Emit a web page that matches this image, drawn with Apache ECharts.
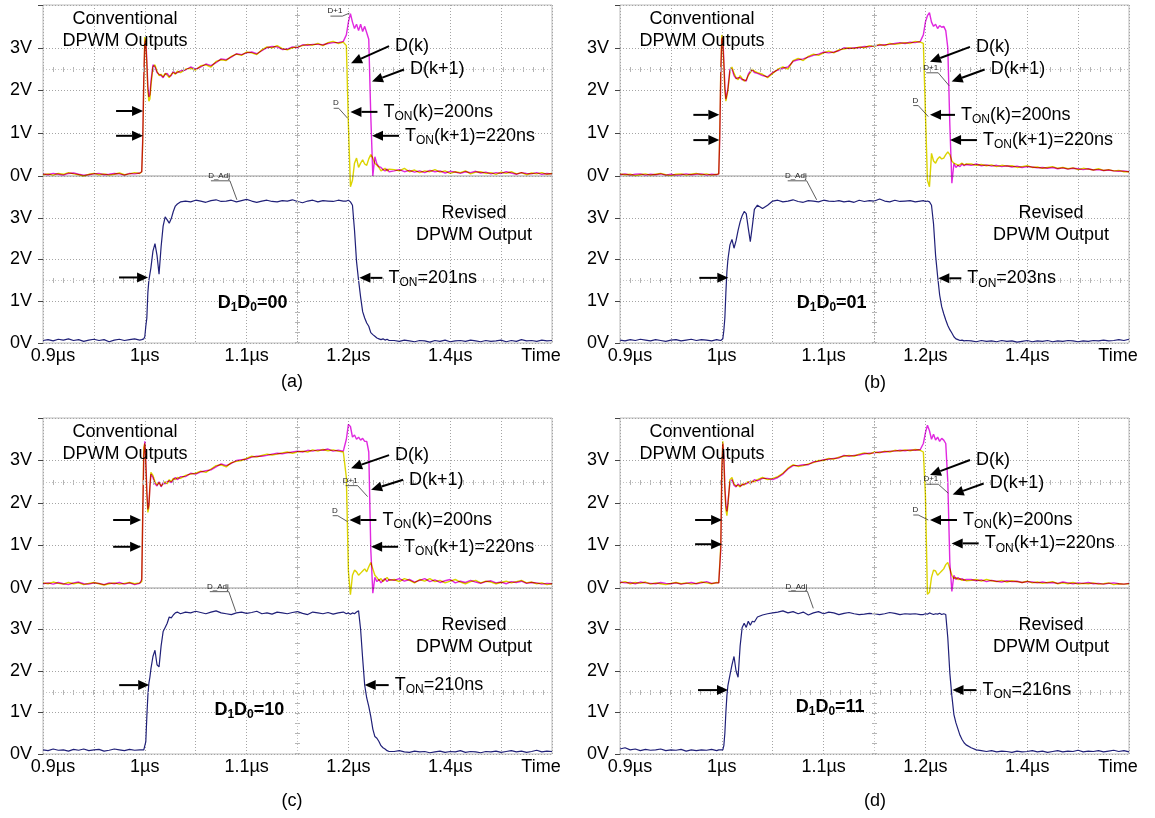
<!DOCTYPE html>
<html>
<head>
<meta charset="utf-8">
<title>DPWM outputs</title>
<script src="https://cdn.jsdelivr.net/npm/echarts@6/dist/echarts.min.js"></script>
<style>
html, body { margin: 0; padding: 0; background: #fff; }
#main { width: 1155px; height: 818px; }
</style>
</head>
<body>
<div id="main"></div>
<script>
// sample times (ns), shared by every trace
var timeNs = [
  900,905,910,915,920,925,930,935,940,945,950,955,960,965,970,975,980,985,990,995,
  997,998,999,1000,1001,1002,1003,1004,1005,1006,1008,1010,1012,1014,1016,1018,1020,1022,1024,1026,1028,1030,1032,1035,
  1040,1045,1050,1055,1060,1065,1070,1075,1080,1085,1090,1095,1100,1105,1110,1115,1120,1125,1130,1135,1140,1145,1150,1155,1160,1165,1170,1175,1180,1185,1190,1195,
  1196,1198,1200,1202,1204,1206,1208,1210,1212,1214,1216,1218,1220,1222,1224,1226,1228,1230,1232,1234,1236,1238,1240,
  1245,1250,1255,1260,1265,1270,1275,1280,1285,1290,1295,1300,1305,1310,1315,1320,1325,1330,1335,1340,1345,1350,1355,1360,1365,1370,1375,1380,1385,1390,1395,1400
];
var xTickLabels = ['0.9\u00b5s', '', '1\u00b5s', '', '1.1\u00b5s', '', '1.2\u00b5s', '', '1.4\u00b5s', '', 'Time'];
var yTickLabels = ['0V', '1V', '2V', '3V', ''];

// (a) D1D0=00
var dkA = [
  0.03,0.05,0.02,0.06,0.04,0.08,0.05,0.03,0.00,0.04,0.06,0.03,0.05,0.02,0.04,0.07,0.03,0.05,0.08,0.06,
  0.1,0.8,2.2,3.25,3.1,2.6,2.0,1.75,1.8,2.1,2.55,2.6,2.45,2.35,2.38,2.32,2.4,2.36,2.3,2.38,2.42,2.38,2.45,2.42,
  2.5,2.52,2.48,2.58,2.6,2.55,2.68,2.72,2.7,2.8,2.85,2.82,2.9,2.88,2.84,2.95,3.02,3.0,3.05,2.98,2.95,3.0,3.02,3.05,3.08,3.06,3.1,3.05,3.12,3.15,3.1,3.13,
  3.12,3.05,1.2,-0.25,-0.1,0.3,0.42,0.2,0.3,0.38,0.28,0.25,0.4,0.5,0.42,0.3,0.25,0.2,0.12,0.15,0.18,0.12,0.16,
  0.15,0.12,0.18,0.1,0.14,0.08,0.12,0.1,0.15,0.09,0.12,0.06,0.1,0.08,0.12,0.05,0.09,0.1,0.06,0.08,0.04,0.09,0.06,0.1,0.05,0.08,0.03,0.07,0.05,0.08,0.04,0.06
];
var dk1A = [
  0.05,0.03,0.06,0.04,0.02,0.06,0.07,0.04,0.02,0.03,0.05,0.06,0.03,0.04,0.06,0.05,0.02,0.06,0.05,0.07,
  0.1,0.9,2.3,3.1,3.2,2.7,2.1,1.85,1.9,2.2,2.6,2.55,2.42,2.38,2.35,2.3,2.38,2.4,2.33,2.35,2.45,2.4,2.42,2.46,
  2.48,2.55,2.5,2.55,2.62,2.58,2.65,2.74,2.72,2.78,2.86,2.84,2.88,2.9,2.86,2.93,3.0,3.03,3.02,2.96,2.97,3.02,3.0,3.07,3.06,3.08,3.08,3.07,3.1,3.12,3.12,3.15,
  3.15,3.3,3.6,3.8,3.6,3.45,3.55,3.4,3.55,3.38,3.5,3.35,3.2,1.4,0.0,0.45,0.28,0.22,0.2,0.15,0.12,0.16,0.1,
  0.12,0.15,0.1,0.13,0.09,0.12,0.08,0.13,0.1,0.12,0.07,0.11,0.09,0.06,0.1,0.08,0.11,0.07,0.09,0.05,0.08,0.06,0.1,0.07,0.04,0.08,0.06,0.05,0.08,0.04,0.06,0.05
];
var revA = [
  0.06,0.08,0.05,0.09,0.07,0.1,0.06,0.08,0.04,0.07,0.09,0.06,0.08,0.03,0.07,0.09,0.06,0.08,0.1,0.07,
  0.08,0.08,0.1,0.15,0.4,0.6,1.2,1.5,1.65,1.8,2.2,2.38,2.1,1.65,2.3,2.8,3.02,2.95,2.87,2.98,3.15,3.28,3.33,3.38,
  3.4,3.38,3.42,3.4,3.37,3.41,3.43,3.39,3.4,3.42,3.38,3.41,3.44,3.4,3.37,3.4,3.42,3.39,3.38,3.41,3.4,3.43,3.39,3.36,3.4,3.42,3.38,3.41,3.4,3.39,3.42,3.4,
  3.41,3.4,3.42,3.38,3.3,2.7,1.95,1.5,1.1,0.75,0.6,0.48,0.4,0.25,0.2,0.16,0.12,0.1,0.08,0.1,0.07,0.09,0.06,
  0.06,0.04,0.07,0.05,0.03,0.06,0.05,0.02,0.06,0.04,0.07,0.03,0.05,0.06,0.04,0.07,0.05,0.03,0.06,0.04,0.05,0.07,0.03,0.06,0.04,0.08,0.05,0.06,0.04,0.07,0.05,0.06
];

// (b) D1D0=01
var dkB = [
  0.05,0.03,0.04,0.01,0.03,0.05,0.02,0.04,0.06,0.03,0.01,0.04,0.05,0.02,0.04,0.06,0.03,0.05,0.02,0.04,
  0.05,1.0,2.5,3.3,3.1,2.6,2.0,1.75,1.73,2.0,2.45,2.55,2.4,2.3,2.25,2.35,2.28,2.22,2.25,2.35,2.42,2.5,2.45,2.42,
  2.38,2.3,2.4,2.5,2.55,2.5,2.7,2.75,2.7,2.8,2.85,2.82,2.88,2.92,2.88,2.95,2.97,3.0,2.98,3.02,3.0,3.05,3.03,3.08,3.05,3.1,3.08,3.1,3.12,3.1,3.15,3.13,
  3.12,3.1,1.5,-0.1,-0.25,0.53,0.35,0.3,0.4,0.45,0.4,0.42,0.5,0.56,0.5,0.35,0.3,0.28,0.25,0.27,0.3,0.26,0.28,
  0.28,0.25,0.27,0.24,0.26,0.22,0.25,0.23,0.24,0.2,0.22,0.24,0.2,0.21,0.18,0.2,0.22,0.18,0.2,0.17,0.19,0.15,0.18,0.16,0.14,0.17,0.13,0.15,0.12,0.13,0.1,0.1
];
var dk1B = [
  0.03,0.05,0.02,0.04,0.05,0.02,0.04,0.03,0.05,0.02,0.04,0.02,0.03,0.05,0.03,0.04,0.05,0.02,0.04,0.03,
  0.05,0.9,2.4,3.2,3.25,2.7,2.1,1.8,1.8,2.05,2.5,2.5,2.35,2.28,2.3,2.3,2.25,2.25,2.22,2.38,2.45,2.48,2.42,2.4,
  2.35,2.32,2.42,2.48,2.52,2.55,2.68,2.72,2.74,2.78,2.82,2.85,2.9,2.88,2.9,2.93,3.0,2.98,3.0,3.0,3.03,3.02,3.05,3.06,3.07,3.08,3.1,3.12,3.1,3.13,3.12,3.15,
  3.15,3.3,3.6,3.75,3.82,3.6,3.5,3.55,3.45,3.52,3.48,3.5,3.4,3.0,1.2,-0.17,0.29,0.2,0.25,0.22,0.28,0.24,0.27,
  0.25,0.28,0.24,0.26,0.23,0.25,0.22,0.24,0.21,0.23,0.2,0.22,0.21,0.19,0.2,0.18,0.2,0.17,0.19,0.16,0.18,0.17,0.15,0.17,0.14,0.15,0.13,0.14,0.12,0.11,0.12,0.1
];
var revB = [
  0.07,0.05,0.08,0.06,0.09,0.07,0.05,0.08,0.06,0.04,0.07,0.08,0.05,0.07,0.09,0.06,0.08,0.07,0.05,0.08,
  0.07,0.08,0.06,0.08,0.1,0.3,0.6,1.2,1.7,2.0,2.35,2.48,2.27,2.45,2.7,2.9,3.05,3.15,3.1,2.75,2.43,2.8,3.2,3.3,
  3.22,3.3,3.4,3.42,3.38,3.4,3.43,3.39,3.37,3.41,3.4,3.38,3.42,3.4,3.39,3.41,3.38,3.4,3.37,3.42,3.39,3.41,3.4,3.45,3.4,3.38,3.42,3.39,3.4,3.41,3.38,3.4,
  3.4,3.41,3.39,3.4,3.38,3.3,2.85,2.1,1.6,1.15,0.87,0.7,0.55,0.42,0.32,0.24,0.15,0.1,0.08,0.06,0.07,0.05,0.06,
  0.05,0.03,0.06,0.04,0.05,0.03,0.06,0.04,0.05,0.02,0.04,0.06,0.03,0.05,0.04,0.06,0.03,0.05,0.04,0.06,0.05,0.03,0.05,0.04,0.06,0.05,0.07,0.05,0.06,0.08,0.06,0.09
];

// (c) D1D0=10
var dkC = [
  0.12,0.1,0.14,0.11,0.09,0.13,0.1,0.12,0.08,0.11,0.13,0.1,0.07,0.1,0.12,0.09,0.11,0.13,0.1,0.12,
  0.15,1.8,3.3,3.4,2.9,2.2,1.78,1.9,2.4,2.72,2.65,2.5,2.42,2.48,2.4,2.45,2.5,2.45,2.55,2.5,2.58,2.55,2.6,2.58,
  2.65,2.68,2.7,2.75,2.72,2.8,2.88,2.9,2.85,2.95,2.98,3.0,3.05,3.1,3.08,3.12,3.15,3.13,3.15,3.18,3.2,3.17,3.2,3.22,3.2,3.25,3.22,3.26,3.23,3.25,3.22,3.2,
  3.2,2.6,0.4,-0.16,0.3,0.42,0.38,0.3,0.35,0.4,0.45,0.38,0.5,0.6,0.45,0.3,0.25,0.18,0.22,0.15,0.2,0.25,0.18,
  0.2,0.15,0.22,0.18,0.12,0.2,0.16,0.22,0.15,0.18,0.12,0.16,0.2,0.14,0.1,0.15,0.18,0.12,0.16,0.14,0.1,0.13,0.16,0.12,0.15,0.18,0.12,0.14,0.1,0.12,0.08,0.1
];
var dk1C = [
  0.1,0.12,0.09,0.13,0.1,0.08,0.12,0.14,0.1,0.09,0.12,0.11,0.08,0.12,0.1,0.13,0.09,0.12,0.08,0.11,
  0.2,1.7,3.1,3.45,3.0,2.3,1.85,1.95,2.35,2.68,2.6,2.45,2.4,2.5,2.38,2.48,2.45,2.5,2.52,2.48,2.55,2.6,2.55,2.62,
  2.62,2.7,2.68,2.73,2.76,2.78,2.85,2.92,2.88,2.93,3.0,3.02,3.03,3.08,3.1,3.1,3.12,3.15,3.17,3.16,3.18,3.2,3.22,3.2,3.24,3.22,3.25,3.24,3.27,3.22,3.24,3.22,
  3.22,3.5,3.85,3.8,3.55,3.6,3.5,3.55,3.48,3.52,3.45,3.45,3.2,0.9,-0.12,0.25,0.15,0.2,0.12,0.18,0.22,0.15,0.2,
  0.18,0.22,0.16,0.2,0.14,0.18,0.22,0.15,0.19,0.13,0.17,0.2,0.12,0.16,0.13,0.18,0.14,0.11,0.15,0.17,0.12,0.14,0.1,0.15,0.13,0.16,0.11,0.13,0.12,0.09,0.11,0.1
];
var revC = [
  0.1,0.08,0.12,0.09,0.1,0.07,0.11,0.09,0.12,0.08,0.1,0.11,0.07,0.09,0.12,0.1,0.08,0.11,0.09,0.1,
  0.1,0.08,0.1,0.12,0.3,0.9,1.4,1.7,1.85,2.05,2.35,2.5,2.15,2.1,2.6,2.95,3.05,3.15,3.3,3.28,3.35,3.4,3.42,3.38,
  3.42,3.4,3.44,3.41,3.38,3.42,3.45,3.4,3.38,3.36,3.4,3.42,3.39,3.41,3.44,3.38,3.4,3.37,3.42,3.4,3.38,3.41,3.43,3.39,3.36,3.42,3.4,3.38,3.41,3.37,3.4,3.42,
  3.4,3.38,3.4,3.37,3.4,3.38,3.42,3.45,3.0,2.3,1.66,1.35,1.15,0.9,0.6,0.42,0.38,0.3,0.2,0.15,0.12,0.08,0.06,
  0.06,0.08,0.05,0.04,0.07,0.05,0.06,0.03,0.05,0.07,0.04,0.06,0.05,0.08,0.04,0.06,0.05,0.03,0.06,0.05,0.07,0.04,0.06,0.08,0.05,0.07,0.04,0.06,0.09,0.05,0.07,0.06
];

// (d) D1D0=11
var dkD = [
  0.12,0.15,0.1,0.13,0.11,0.14,0.09,0.12,0.1,0.08,0.11,0.13,0.1,0.12,0.09,0.11,0.14,0.12,0.1,0.13,
  0.12,0.15,1.0,2.8,3.45,3.0,2.3,1.85,1.7,1.95,2.55,2.6,2.45,2.4,2.42,2.38,2.45,2.42,2.48,2.5,2.45,2.52,2.5,2.55,
  2.6,2.55,2.58,2.62,2.7,2.82,2.9,2.86,2.88,2.92,2.95,3.0,3.0,3.05,3.03,3.08,3.1,3.12,3.1,3.15,3.18,3.15,3.2,3.18,3.22,3.2,3.24,3.22,3.25,3.23,3.26,3.24,
  3.25,3.2,2.2,-0.15,-0.1,0.25,0.42,0.4,0.3,0.35,0.4,0.45,0.55,0.6,0.45,0.3,0.22,0.25,0.2,0.22,0.18,0.2,0.17,
  0.18,0.2,0.16,0.2,0.17,0.15,0.18,0.14,0.17,0.15,0.13,0.16,0.12,0.14,0.11,0.13,0.15,0.1,0.12,0.1,0.13,0.09,0.11,0.1,0.12,0.09,0.1,0.12,0.08,0.1,0.09,0.1
];
var dk1D = [
  0.14,0.12,0.13,0.1,0.14,0.12,0.11,0.1,0.13,0.11,0.1,0.12,0.09,0.11,0.13,0.1,0.12,0.15,0.11,0.12,
  0.12,0.14,0.9,2.7,3.4,3.1,2.4,1.95,1.8,2.0,2.5,2.55,2.42,2.38,2.45,2.4,2.42,2.45,2.45,2.48,2.5,2.48,2.55,2.52,
  2.58,2.58,2.55,2.6,2.68,2.8,2.88,2.88,2.9,2.9,2.97,2.98,3.02,3.03,3.05,3.06,3.12,3.1,3.12,3.13,3.16,3.17,3.18,3.2,3.2,3.22,3.22,3.24,3.23,3.25,3.24,3.26,
  3.26,3.4,3.65,3.83,3.7,3.5,3.62,3.48,3.55,3.45,3.52,3.48,3.4,2.5,0.6,-0.08,0.3,0.2,0.25,0.2,0.22,0.18,0.2,
  0.2,0.17,0.19,0.15,0.18,0.16,0.14,0.17,0.15,0.16,0.13,0.15,0.14,0.12,0.14,0.12,0.13,0.11,0.14,0.12,0.1,0.12,0.11,0.13,0.1,0.11,0.09,0.11,0.12,0.1,0.09,0.11
];
var revD = [
  0.12,0.15,0.1,0.12,0.08,0.11,0.09,0.1,0.12,0.08,0.1,0.09,0.11,0.07,0.1,0.08,0.1,0.09,0.11,0.08,
  0.1,0.08,0.1,0.09,0.1,0.2,0.5,1.0,1.4,1.65,1.9,2.15,2.35,2.0,1.85,2.6,3.05,3.15,3.05,3.2,3.1,3.2,3.18,3.3,
  3.35,3.38,3.4,3.42,3.45,3.4,3.43,3.38,3.42,3.35,3.4,3.43,3.38,3.42,3.4,3.36,3.39,3.41,3.38,3.36,3.37,3.39,3.38,3.36,3.38,3.41,3.39,3.36,3.38,3.37,3.38,3.36,
  3.38,3.36,3.38,3.37,3.4,3.38,3.36,3.38,3.37,3.39,3.36,3.38,3.36,2.8,1.95,1.4,0.95,0.75,0.6,0.45,0.35,0.27,0.22,
  0.15,0.1,0.08,0.06,0.08,0.05,0.07,0.06,0.04,0.07,0.05,0.06,0.08,0.05,0.07,0.04,0.06,0.08,0.05,0.07,0.06,0.09,0.05,0.07,0.06,0.08,0.05,0.07,0.09,0.06,0.08,0.05
];

var FONT = '"Liberation Sans", Arial, sans-serif';
var YEL = '#dcd400';
var MAG = '#e028e0';
var BLUE = '#202078';

// annotation placement per panel (tips in data units, tails in px offsets)
var panels = [
  { left: 43, top: 5, width: 509, hTop: 171, hBot: 167, dk: dkA, dk1: dk1A, rev: revA, code: '00', ton: '201', cap: '(a)', capX: 292, capY: 382,
    riseTop: { t: 998.3, v: [1.52, 0.94], dx: -27 }, dkArrow: { tip: [1202.6, 2.64], dx: 38, dy: -17 }, dk1Arrow: { tip: [1223.2, 2.21], dx: 32, dy: -12 },
    tonK: { tip: [1202, 1.5], dx: 27 }, tonK1: { tip: [1223.2, 0.94], dx: 27 }, riseBot: { tip: [1003.2, 1.57], dx: -29 }, tonBot: { tip: [1210.8, 1.56], dx: 23 },
    codeAt: [1071.6, 0.96], curP: { at: [1201, 3.81], dx: -7, dy: 3 }, curD: { at: [1199.3, 1.35], dx: -9, dy: -10 }, curAdj: { at: [1090.5, 3.43], dx: -7, dy: -19 } },
  { left: 620, top: 5, width: 509, hTop: 171, hBot: 167, dk: dkB, dk1: dk1B, rev: revB, code: '01', ton: '203', cap: '(b)', capX: 875, capY: 383,
    riseTop: { t: 997.6, v: [1.43, 0.84], dx: -26 }, dkArrow: { tip: [1204.5, 2.67], dx: 40, dy: -15 }, dk1Arrow: { tip: [1225.8, 2.21], dx: 33, dy: -12 },
    tonK: { tip: [1204.5, 1.43], dx: 25 }, tonK1: { tip: [1224.2, 0.84], dx: 27 }, riseBot: { tip: [1006.4, 1.56], dx: -29 }, tonBot: { tip: [1212.7, 1.55], dx: 23 },
    codeAt: [1073.6, 0.96], curP: { at: [1223.4, 2.11], dx: -11, dy: -13 }, curD: { at: [1202.8, 1.39], dx: -10, dy: -11 }, curAdj: { at: [1093.2, 3.43], dx: -10, dy: -19 } },
  { left: 43, top: 418, width: 509, hTop: 170, hBot: 166, dk: dkC, dk1: dk1C, rev: revC, code: '10', ton: '210', cap: '(c)', capX: 292, capY: 801,
    riseTop: { t: 996.4, v: [1.6, 0.97], dx: -28 }, dkArrow: { tip: [1202.6, 2.82], dx: 38, dy: -13 }, dk1Arrow: { tip: [1222.3, 2.31], dx: 32, dy: -10 },
    tonK: { tip: [1201, 1.6], dx: 27 }, tonK1: { tip: [1222.3, 0.97], dx: 27 }, riseBot: { tip: [1004.3, 1.66], dx: -30 }, tonBot: { tip: [1216, 1.66], dx: 24 },
    codeAt: [1068.4, 1.06], curP: { at: [1218.9, 2.15], dx: -10, dy: -11 }, curD: { at: [1199.3, 1.56], dx: -10, dy: -6 }, curAdj: { at: [1089.4, 3.43], dx: -7, dy: -20 } },
  { left: 620, top: 418, width: 509, hTop: 170, hBot: 166, dk: dkD, dk1: dk1D, rev: revD, code: '11', ton: '216', cap: '(d)', capX: 875, capY: 801,
    riseTop: { t: 1000.3, v: [1.6, 1.03], dx: -27 }, dkArrow: { tip: [1204.5, 2.66], dx: 40, dy: -15 }, dk1Arrow: { tip: [1226.8, 2.2], dx: 31, dy: -11 },
    tonK: { tip: [1204.5, 1.6], dx: 27 }, tonK1: { tip: [1225.8, 1.05], dx: 27 }, riseBot: { tip: [1006.1, 1.54], dx: -30 }, tonBot: { tip: [1226.6, 1.54], dx: 24 },
    codeAt: [1072.6, 1.14], curP: { at: [1222.5, 2.23], dx: -10, dy: -9 }, curD: { at: [1202.8, 1.6], dx: -10, dy: -5 }, curAdj: { at: [1089.9, 3.51], dx: -6, dy: -17 } }
];

function pairs(vals) {
  if (vals.length !== timeNs.length) console.warn('length mismatch', vals.length);
  return timeNs.map(function (t, k) { return [t, vals[k]]; });
}

// oscilloscope centre axis: tick marks plus a faint dotted line
function centreLines(horizV) {
  var ticks = { color: '#b4b4b4', type: [1, 9], width: 5 };
  var dots = { color: '#c4c4c4', type: [1, 2], width: 1 };
  return {
    silent: true, symbol: 'none', label: { show: false }, animation: false,
    data: [
      { yAxis: horizV, lineStyle: ticks }, { yAxis: horizV, lineStyle: dots },
      { xAxis: 1150, lineStyle: ticks }, { xAxis: 1150, lineStyle: dots }
    ]
  };
}

var grids = [], xAxes = [], yAxes = [], series = [];
panels.forEach(function (p, i) {
  var gTop = i * 2, gBot = i * 2 + 1;
  var gridBase = { show: true, borderColor: '#bcbcbc', borderWidth: 1, backgroundColor: 'transparent', containLabel: false, outerBoundsMode: 'none' };
  grids.push(Object.assign({ left: p.left, top: p.top, width: p.width, height: p.hTop }, gridBase));
  grids.push(Object.assign({ left: p.left, top: p.top + p.hTop, width: p.width, height: p.hBot }, gridBase));
  [gTop, gBot].forEach(function (gi) {
    xAxes.push({
      type: 'value', gridIndex: gi, min: 900, max: 1400, interval: 50,
      axisLine: { show: false }, axisTick: { show: false },
      splitLine: { show: true, lineStyle: { color: '#a4a4a4', type: [1, 2], width: 1 } },
      axisLabel: gi === gBot ? {
        show: true, showMinLabel: true, showMaxLabel: true, margin: 4,
        fontSize: 18, fontFamily: FONT, color: '#000',
        formatter: function (v) {
          var k = Math.round((v - 900) / 50);
          var s = xTickLabels[k] || '';
          if (k === 0) return '{first|' + s + '}';
          if (k === xTickLabels.length - 1) return '{last|' + s + '}';
          return s;
        },
        rich: {
          first: { padding: [0, 0, 0, 20], fontSize: 18, fontFamily: FONT, color: '#000' },
          last: { padding: [0, 22, 0, 0], fontSize: 18, fontFamily: FONT, color: '#000' }
        }
      } : { show: false }
    });
    yAxes.push({
      type: 'value', gridIndex: gi, min: 0, max: 4, interval: 1,
      axisLine: { show: false },
      axisTick: { show: true, length: 5, lineStyle: { color: '#444', width: 1 } },
      splitLine: { show: true, lineStyle: { color: '#a4a4a4', type: [1, 2], width: 1 } },
      axisLabel: { margin: 11, fontSize: 18, fontFamily: FONT, color: '#000',
        formatter: function (v) { return yTickLabels[Math.round(v)]; } }
    });
  });
  series.push({
    type: 'line', name: 'D(k)', xAxisIndex: gTop, yAxisIndex: gTop, data: pairs(p.dk),
    showSymbol: false, clip: false, animation: false, silent: true,
    lineStyle: { color: YEL, width: 1.4 }, itemStyle: { color: YEL },
    markLine: centreLines(2.5)
  });
  series.push({
    type: 'line', name: 'D(k+1)', xAxisIndex: gTop, yAxisIndex: gTop, data: pairs(p.dk1),
    showSymbol: false, clip: false, animation: false, silent: true,
    lineStyle: { color: MAG, width: 1.4 }, itemStyle: { color: MAG }
  });
  series.push({
    type: 'line', name: 'D_Adj', xAxisIndex: gBot, yAxisIndex: gBot, data: pairs(p.rev),
    showSymbol: false, clip: false, animation: false, silent: true,
    lineStyle: { color: BLUE, width: 1.2 }, itemStyle: { color: BLUE },
    markLine: centreLines(1.5)
  });
});

var chart = echarts.init(document.getElementById('main'));
chart.setOption({
  backgroundColor: '#ffffff',
  animation: false,
  grid: grids, xAxis: xAxes, yAxis: yAxes, series: series
});

// ---- annotations ----
var g = [];
var SUB = { fontSize: 12, fontFamily: FONT, fill: '#000', verticalAlign: 'bottom', lineHeight: 8 };
var SUBB = { fontSize: 12, fontFamily: FONT, fontWeight: 'bold', fill: '#000', verticalAlign: 'bottom', lineHeight: 8 };

function addText(x, y, text, extra) {
  var st = { text: text, fill: '#000', fontSize: 18, fontFamily: FONT, lineHeight: 22,
    align: 'left', verticalAlign: 'middle', rich: { s: SUB, b: SUBB } };
  Object.assign(st, extra || {});
  g.push({ type: 'text', x: x, y: y, z: 100, silent: true, style: st });
}
function arrow(tip, dx, dy) {
  var x2 = tip[0], y2 = tip[1], x1 = x2 + dx, y1 = y2 + dy;
  var len = Math.sqrt(dx * dx + dy * dy), ux = -dx / len, uy = -dy / len;
  var hl = 11, hw = 5, bx = x2 - ux * hl, by = y2 - uy * hl;
  g.push({ type: 'line', z: 100, silent: true, shape: { x1: x1, y1: y1, x2: bx, y2: by }, style: { stroke: '#000', lineWidth: 2 } });
  g.push({ type: 'polygon', z: 100, silent: true,
    shape: { points: [[x2, y2], [bx - uy * hw, by + ux * hw], [bx + uy * hw, by - ux * hw]] },
    style: { fill: '#000' } });
  return [x1, y1];
}
function arrowText(tip, dx, dy, text) {
  var tail = arrow(tip, dx, dy || 0);
  if (text) addText(tail[0] + 6, tail[1], text);
}
function cursor(pt, c, label, w) {
  var ax = pt[0] + c.dx, ay = pt[1] + c.dy;
  g.push({ type: 'line', z: 90, silent: true, shape: { x1: ax, y1: ay, x2: pt[0], y2: pt[1] }, style: { stroke: '#333', lineWidth: 0.8 } });
  g.push({ type: 'line', z: 90, silent: true, shape: { x1: ax - w, y1: ay, x2: ax, y2: ay }, style: { stroke: '#333', lineWidth: 0.8 } });
  g.push({ type: 'text', z: 90, silent: true, x: ax, y: ay - 1,
    style: { text: label, fill: '#222', fontSize: 8, fontFamily: FONT, align: 'right', verticalAlign: 'bottom' } });
}

panels.forEach(function (p, i) {
  var gTop = i * 2, gBot = i * 2 + 1;
  var at = function (gi, pt) { return chart.convertToPixel({ gridIndex: gi }, pt); };
  addText(p.left + 82, p.top + 25, 'Conventional\nDPWM Outputs', { align: 'center' });
  addText(p.left + 431, p.top + p.hTop + 48, 'Revised\nDPWM Output', { align: 'center' });
  p.riseTop.v.forEach(function (v) { arrowText(at(gTop, [p.riseTop.t, v]), p.riseTop.dx, 0); });
  arrowText(at(gTop, p.dkArrow.tip), p.dkArrow.dx, p.dkArrow.dy, 'D(k)');
  arrowText(at(gTop, p.dk1Arrow.tip), p.dk1Arrow.dx, p.dk1Arrow.dy, 'D(k+1)');
  arrowText(at(gTop, p.tonK.tip), p.tonK.dx, 0, 'T{s|ON}(k)=200ns');
  arrowText(at(gTop, p.tonK1.tip), p.tonK1.dx, 0, 'T{s|ON}(k+1)=220ns');
  arrowText(at(gBot, p.riseBot.tip), p.riseBot.dx, 0);
  arrowText(at(gBot, p.tonBot.tip), p.tonBot.dx, 0, 'T{s|ON}=' + p.ton + 'ns');
  var cp = at(gBot, p.codeAt);
  addText(cp[0], cp[1], 'D{b|1}D{b|0}=' + p.code, { fontWeight: 'bold' });
  cursor(at(gTop, p.curP.at), p.curP, 'D+1', 12);
  cursor(at(gTop, p.curD.at), p.curD, 'D', 5);
  cursor(at(gBot, p.curAdj.at), p.curAdj, 'D_Adj', 19);
  addText(p.capX, p.capY, p.cap, { align: 'center' });
});

chart.setOption({ graphic: g });

// overlapping yellow and magenta traces read as red on the scope: multiply them
var zr = chart.getZr();
zr.storage.getDisplayList(true).forEach(function (el) {
  var s = el.style && el.style.stroke;
  if (typeof s === 'string' && (s.toLowerCase() === YEL || s.toLowerCase() === MAG)) {
    el.style.blend = 'multiply';
    el.markRedraw();
  }
});
zr.refreshImmediately();

window.addEventListener('resize', function () { chart.resize(); });
</script>
</body>
</html>
